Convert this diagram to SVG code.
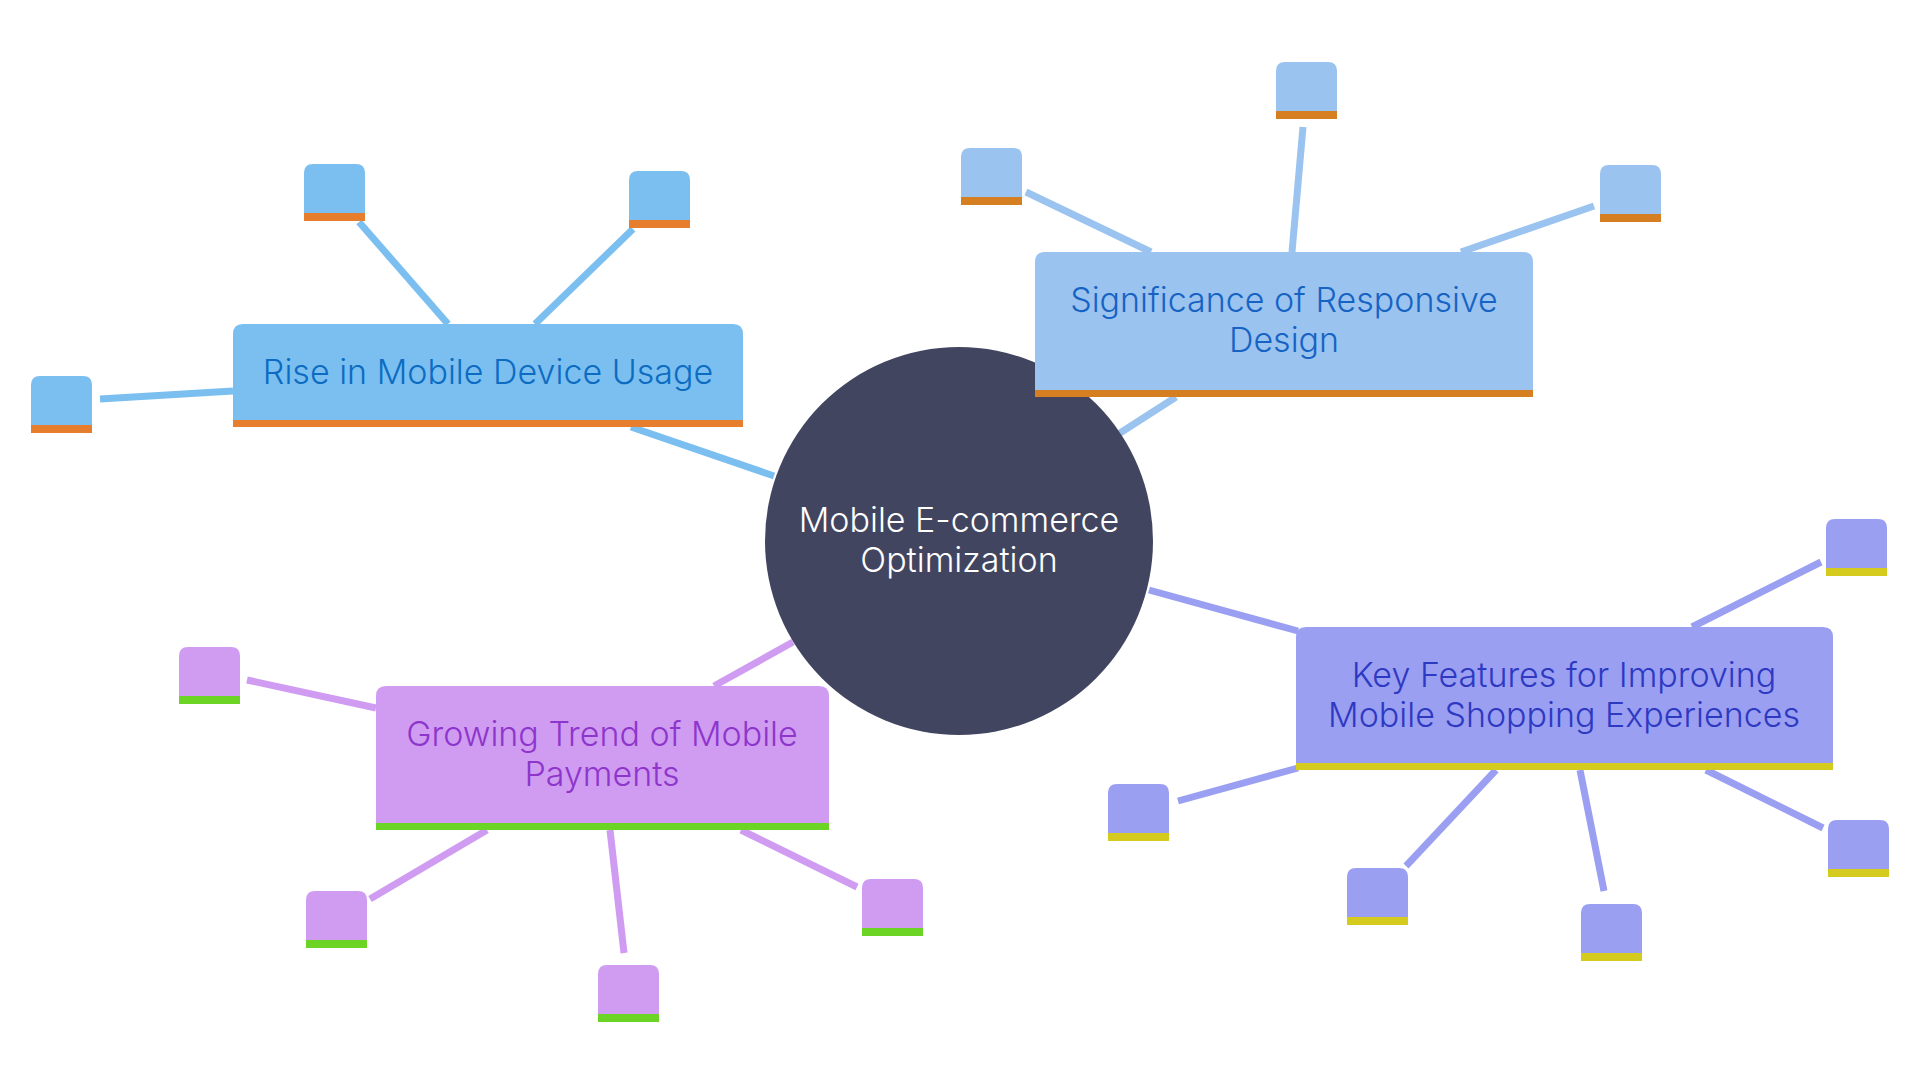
<svg xmlns="http://www.w3.org/2000/svg" width="1920" height="1080" viewBox="0 0 1920 1080">
<style>
.t{font-family:Inter,"Noto Sans","Liberation Sans",sans-serif;font-size:34px;font-weight:300;text-anchor:middle}
.cl{fill:none;stroke-width:7}
.blue .f{fill:#7BBFF1}.blue .s{fill:#E67E2E}.blue .t{fill:#0B6CC2}
.sky .f{fill:#9BC3EF}.sky .s{fill:#D57F22}.sky .t{fill:#1663C4}
.vio .f{fill:#9A9FF2}.vio .s{fill:#D4CB1E}.vio .t{fill:#2E39C2}
.pur .f{fill:#CF9CF2}.pur .s{fill:#6CD424}.pur .t{fill:#8E35CB}
</style>
<rect width="1920" height="1080" fill="#FFFFFF"/>
<g id="connectors" class="cl">
<g stroke="#7BBFF1">
<line x1="631" y1="427" x2="774" y2="476"/>
<line x1="100" y1="399" x2="233" y2="391"/>
<line x1="359" y1="222" x2="448" y2="324"/>
<line x1="633" y1="229" x2="535" y2="324"/>
</g>
<g stroke="#9BC3EF">
<line x1="1176" y1="397" x2="1120" y2="433"/>
<line x1="1026" y1="192" x2="1151" y2="252"/>
<line x1="1303" y1="127" x2="1292" y2="252"/>
<line x1="1594" y1="206" x2="1461" y2="252"/>
</g>
<g stroke="#9A9FF2">
<line x1="1149" y1="590" x2="1298" y2="631"/>
<line x1="1821" y1="562" x2="1692" y2="627"/>
<line x1="1178" y1="801" x2="1298" y2="768"/>
<line x1="1406" y1="866" x2="1496" y2="770"/>
<line x1="1604" y1="891" x2="1580" y2="770"/>
<line x1="1823" y1="828" x2="1706" y2="770"/>
</g>
<g stroke="#CF9CF2">
<line x1="793" y1="642" x2="714" y2="686"/>
<line x1="247" y1="680" x2="376" y2="708"/>
<line x1="370" y1="899" x2="487" y2="830"/>
<line x1="624" y1="953" x2="610" y2="830"/>
<line x1="857" y1="887" x2="741" y2="830"/>
</g>
</g>
<g id="center">
<circle cx="959" cy="541" r="194" fill="#414560"/>
<text class="t" x="959" y="532" fill="#FFFFFF">Mobile E-commerce</text>
<text class="t" x="959" y="572" fill="#FFFFFF">Optimization</text>
</g>
<g id="rise" class="blue">
<path class="f" d="M233,334 Q233,324 243,324 H733 Q743,324 743,334 V427 H233 Z"/>
<rect class="s" x="233" y="420" width="510" height="7"/>
<text class="t" x="488" y="384">Rise in Mobile Device Usage</text>
</g>
<g id="sig" class="sky">
<path class="f" d="M1035,262 Q1035,252 1045,252 H1523 Q1533,252 1533,262 V397 H1035 Z"/>
<rect class="s" x="1035" y="390" width="498" height="7"/>
<text class="t" x="1284" y="312">Significance of Responsive</text>
<text class="t" x="1284" y="352">Design</text>
</g>
<g id="key" class="vio">
<path class="f" d="M1296,637 Q1296,627 1306,627 H1823 Q1833,627 1833,637 V770 H1296 Z"/>
<rect class="s" x="1296" y="763" width="537" height="7"/>
<text class="t" x="1564" y="687">Key Features for Improving</text>
<text class="t" x="1564" y="727">Mobile Shopping Experiences</text>
</g>
<g id="grow" class="pur">
<path class="f" d="M376,696 Q376,686 386,686 H819 Q829,686 829,696 V830 H376 Z"/>
<rect class="s" x="376" y="823" width="453" height="7"/>
<text class="t" x="602" y="746">Growing Trend of Mobile</text>
<text class="t" x="602" y="786">Payments</text>
</g>
<defs>
<path id="lf" d="M0,9 Q0,0 9,0 H52 Q61,0 61,9 V57 H0 Z"/>
<rect id="ls" x="0" y="49" width="61" height="8"/>
</defs>
<g class="blue">
<g id="r1" transform="translate(304,164)"><use href="#lf" class="f"/><use href="#ls" class="s"/></g>
<g id="r2" transform="translate(629,171)"><use href="#lf" class="f"/><use href="#ls" class="s"/></g>
<g id="r3" transform="translate(31,376)"><use href="#lf" class="f"/><use href="#ls" class="s"/></g>
</g>
<g class="sky">
<g id="s1" transform="translate(961,148)"><use href="#lf" class="f"/><use href="#ls" class="s"/></g>
<g id="s2" transform="translate(1276,62)"><use href="#lf" class="f"/><use href="#ls" class="s"/></g>
<g id="s3" transform="translate(1600,165)"><use href="#lf" class="f"/><use href="#ls" class="s"/></g>
</g>
<g class="vio">
<g id="k1" transform="translate(1826,519)"><use href="#lf" class="f"/><use href="#ls" class="s"/></g>
<g id="k2" transform="translate(1108,784)"><use href="#lf" class="f"/><use href="#ls" class="s"/></g>
<g id="k3" transform="translate(1347,868)"><use href="#lf" class="f"/><use href="#ls" class="s"/></g>
<g id="k4" transform="translate(1581,904)"><use href="#lf" class="f"/><use href="#ls" class="s"/></g>
<g id="k5" transform="translate(1828,820)"><use href="#lf" class="f"/><use href="#ls" class="s"/></g>
</g>
<g class="pur">
<g id="g1" transform="translate(179,647)"><use href="#lf" class="f"/><use href="#ls" class="s"/></g>
<g id="g2" transform="translate(306,891)"><use href="#lf" class="f"/><use href="#ls" class="s"/></g>
<g id="g3" transform="translate(598,965)"><use href="#lf" class="f"/><use href="#ls" class="s"/></g>
<g id="g4" transform="translate(862,879)"><use href="#lf" class="f"/><use href="#ls" class="s"/></g>
</g>
</svg>
